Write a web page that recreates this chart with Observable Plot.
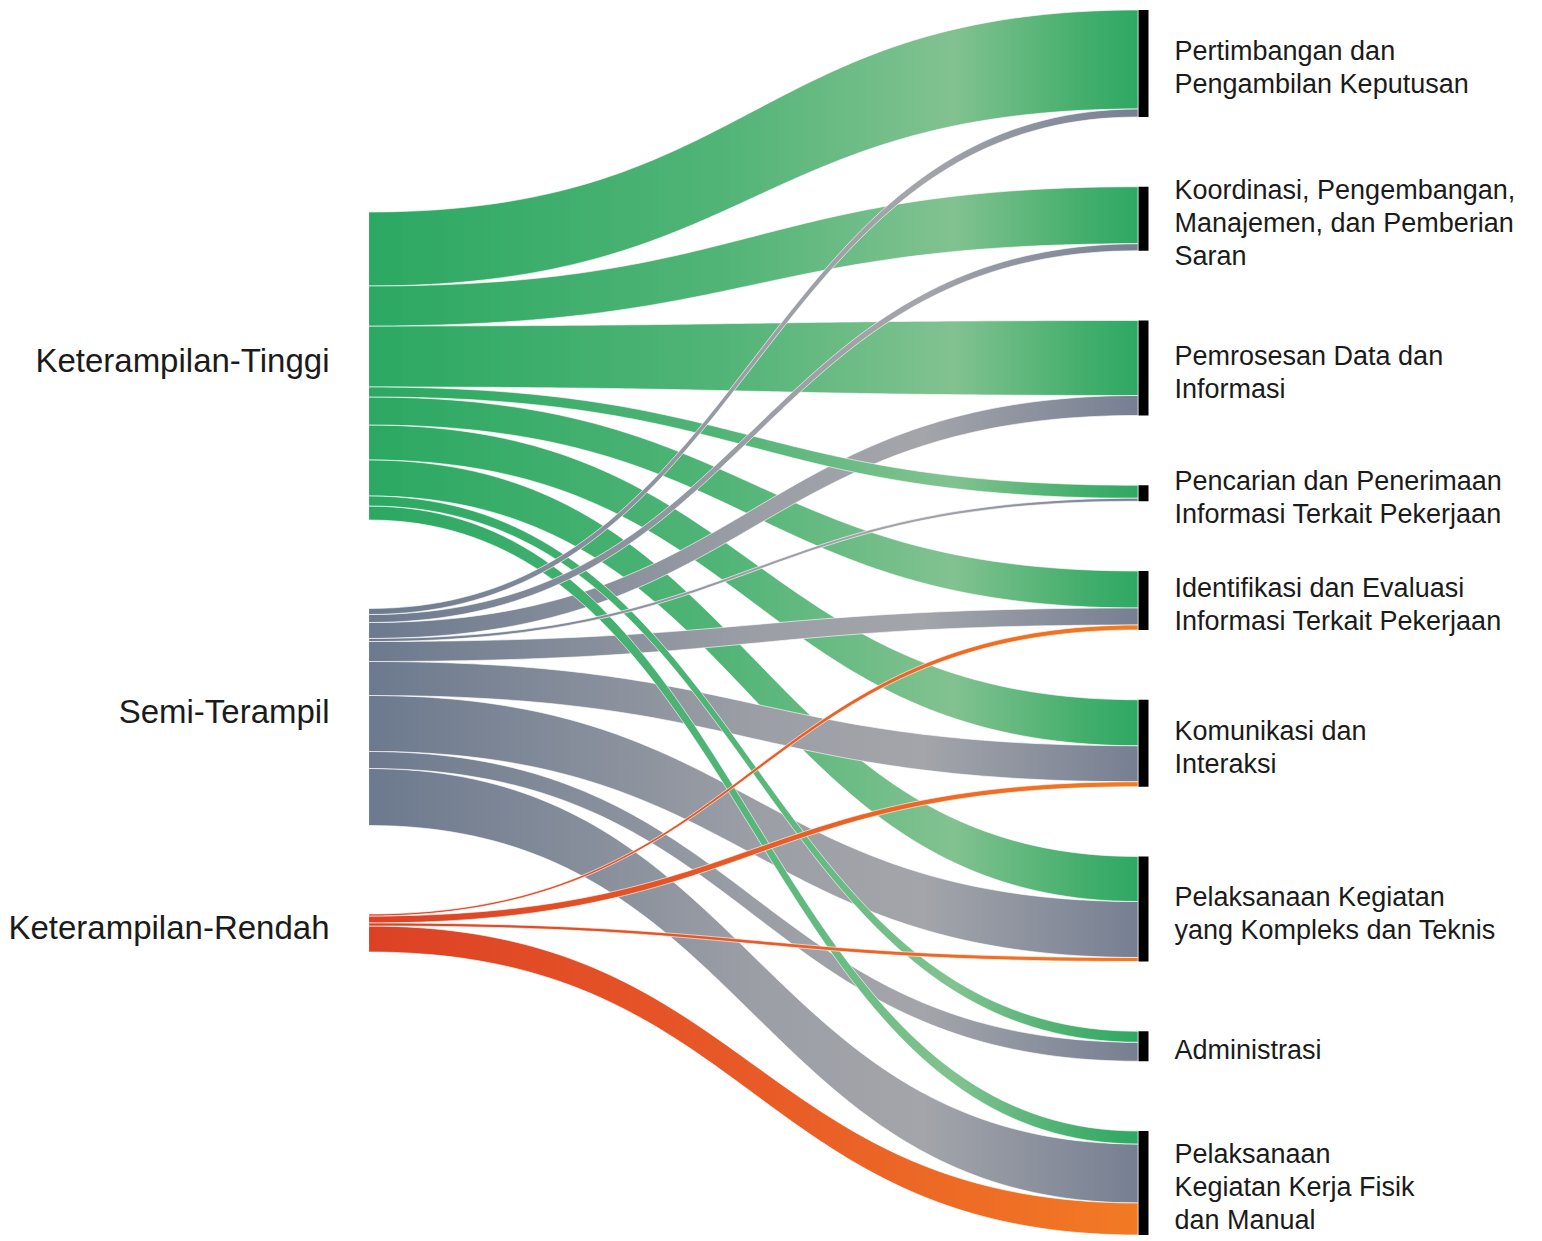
<!DOCTYPE html>
<html>
<head>
<meta charset="utf-8">
<script src="https://cdn.jsdelivr.net/npm/d3@7"></script>
<script src="https://cdn.jsdelivr.net/npm/@observablehq/plot@0.6"></script>
<style>
  html, body { margin: 0; padding: 0; background: #fff; overflow: hidden; }
  #chart svg { display: block; }
</style>
</head>
<body>
<div id="chart"></div>
<script>
// ---------------- DATA ----------------
const sources = ["Keterampilan-Tinggi", "Semi-Terampil", "Keterampilan-Rendah"];
const targets = [
  "Pertimbangan dan\nPengambilan Keputusan",
  "Koordinasi, Pengembangan,\nManajemen, dan Pemberian\nSaran",
  "Pemrosesan Data dan\nInformasi",
  "Pencarian dan Penerimaan\nInformasi Terkait Pekerjaan",
  "Identifikasi dan Evaluasi\nInformasi Terkait Pekerjaan",
  "Komunikasi dan\nInteraksi",
  "Pelaksanaan Kegiatan\nyang Kompleks dan Teknis",
  "Administrasi",
  "Pelaksanaan\nKegiatan Kerja Fisik\ndan Manual"
];
// flow size as drawn where each link leaves its skill level (left)
const tinggiAtSource = [74, 40, 61, 10, 28, 35, 36, 10, 14];
const semiAtSource   = [ 6,  8, 16,  3, 20, 34, 56, 17, 57];
const rendahAtSource = [ 0,  0,  0,  0,  2,  7,  3,  0, 26];
// flow size as drawn where each link enters its activity (right)
const tinggiAtTarget = [99, 57, 75, 13, 37, 46, 45, 11, 13];
const semiAtTarget   = [ 8,  7, 20,  3, 17, 36, 56, 19, 59];
const rendahAtTarget = [ 0,  0,  0,  0,  5,  5,  4,  0, 32];

// ---------------- LAYOUT SETTINGS ----------------
const W = 1542, H = 1241;
const leftExtent = [212, 952];
const rightExtent = [10, 1235];
const gradientStops = [
  [[0, "#2ba862"], [0.45, "#50b476"], [0.76, "#82c290"], [0.93, "#43ae6c"], [1, "#2ea864"]],
  [[0, "#6c798e"], [0.5, "#9b9ea5"], [0.72, "#a3a5aa"], [1, "#767f92"]],
  [[0, "#dc4125"], [0.5, "#e85a27"], [1, "#f27a24"]]
];

const atSource = [tinggiAtSource, semiAtSource, rendahAtSource];
const atTarget = [tinggiAtTarget, semiAtTarget, rendahAtTarget];

function stackColumn(sizes, extent) {
  const total = d3.sum(sizes);
  const pad = (extent[1] - extent[0] - total) / (sizes.length - 1);
  let y = extent[0];
  return sizes.map(s => { const n = {y0: y, y1: y + s}; y += s + pad; return n; });
}

const leftNodes = stackColumn(atSource.map(r => d3.sum(r)), leftExtent)
  .map((n, i) => ({...n, name: sources[i], mid: (n.y0 + n.y1) / 2}));
const rightNodes = stackColumn(targets.map((_, j) => d3.sum(atTarget, r => r[j])), rightExtent)
  .map((n, j) => ({...n, name: targets[j], mid: (n.y0 + n.y1) / 2}));

const srcCursor = leftNodes.map(n => n.y0);
const tgtCursor = rightNodes.map(n => n.y0);
const links = [];
sources.forEach((s, i) => {
  targets.forEach((t, j) => {
    const vs = atSource[i][j], vt = atTarget[i][j];
    const s0 = srcCursor[i], t0 = tgtCursor[j];
    srcCursor[i] += vs; tgtCursor[j] += vt;
    if (vs + vt === 0) return;
    links.push({id: `${i}-${j}`, src: i, s0, s1: s0 + vs, t0, t1: t0 + vt, size: (vs + vt) / 2});
  });
});
links.sort((a, b) => b.size - a.size);

const N = 90;
const pts = [];
for (const l of links) {
  for (let k = 0; k <= N; k++) {
    const t = k / N;
    const x = 1.5 * t * (1 - t) + t * t * t;
    const f = 3 * t * t - 2 * t * t * t;
    pts.push({
      id: l.id,
      grad: `url(#grad-${l.src})`,
      x,
      top: l.s0 + (l.t0 - l.s0) * f,
      bottom: l.s1 + (l.t1 - l.s1) * f
    });
  }
}

const chart = Plot.plot({
  width: W,
  height: H,
  margin: 0,
  x: {domain: [0, 1], range: [369, 1138], axis: null},
  y: {domain: [0, H], range: [0, H], axis: null},
  color: {type: "identity"},
  style: {fontFamily: "'Liberation Sans', Arial, Helvetica, sans-serif", background: "#fff", color: "#1b1b1b"},
  marks: [
    Plot.areaY(pts, {x: "x", y1: "top", y2: "bottom", z: "id", fill: "grad",
      stroke: "white", strokeWidth: 0.7, strokeOpacity: 0.9, curve: "linear"}),
    Plot.ruleX(rightNodes, {x: () => 1, y1: "y0", y2: "y1", stroke: "black", strokeWidth: 10, dx: 5}),
    Plot.text(leftNodes, {x: () => 0, y: "mid", text: "name", textAnchor: "end", dx: -40, dy: -5,
      fontSize: 33, fill: "#1b1b1b"}),
    Plot.text(rightNodes, {x: () => 1, y: "mid", text: "name", textAnchor: "start", dx: 36, dy: 2,
      lineAnchor: "middle", lineHeight: 1.22, fontSize: 27, fill: "#1b1b1b"})
  ]
});

const xs = chart.scale("x");
const defs = d3.select(chart).insert("defs", ":first-child");
gradientStops.forEach((stops, i) => {
  const lg = defs.append("linearGradient")
    .attr("id", `grad-${i}`)
    .attr("gradientUnits", "userSpaceOnUse")
    .attr("x1", xs.apply(0)).attr("x2", xs.apply(1))
    .attr("y1", 0).attr("y2", 0);
  stops.forEach(([o, c]) => lg.append("stop").attr("offset", o).attr("stop-color", c));
});

document.getElementById("chart").appendChild(chart);
</script>
</body>
</html>
